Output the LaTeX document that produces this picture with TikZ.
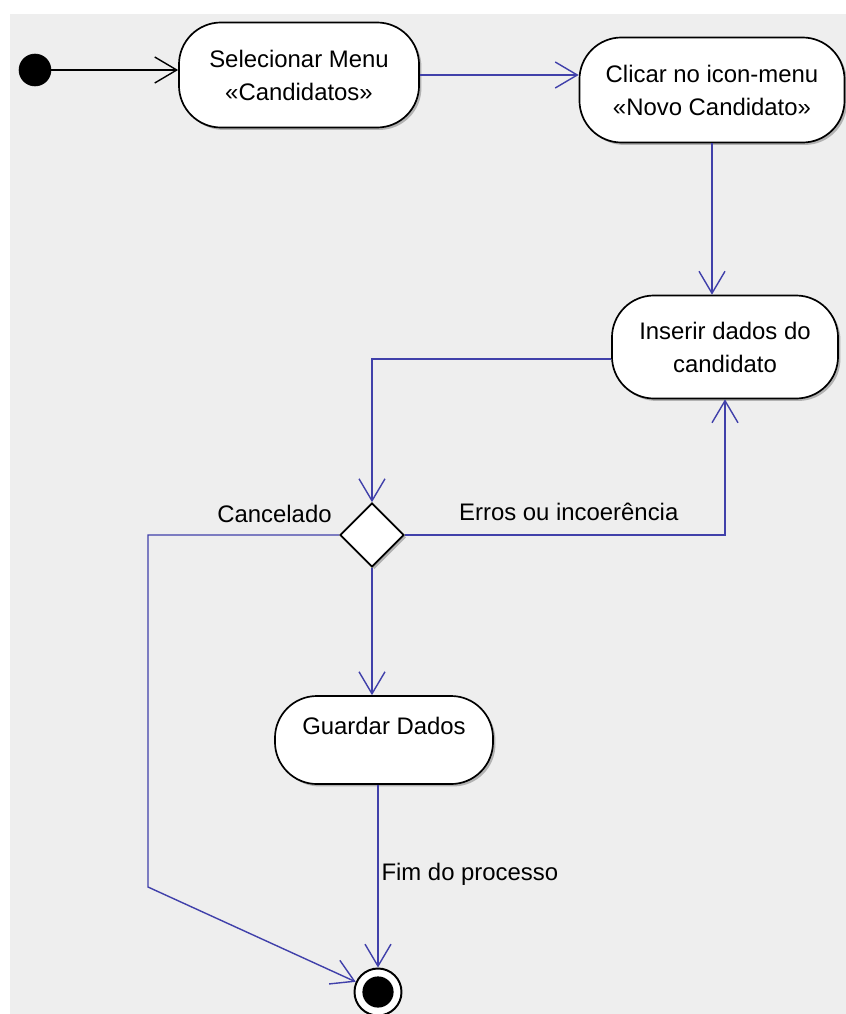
\documentclass[tikz,border=0pt]{standalone}
\usepackage{fontspec}
\setmainfont{Liberation Sans}
\usetikzlibrary{arrows.meta, shapes.geometric, shadows}

\definecolor{bggray}{RGB}{238,238,238}
\definecolor{flowblue}{RGB}{64,64,170}

\begin{document}
\begin{tikzpicture}[
	x=0.025cm, y=-0.025cm,
	activity/.style={rectangle, rounded corners=1.05cm, draw, line width=1.2pt, fill=white, align=center,
		font=\fontsize{17}{23.5}\selectfont,
		drop shadow={shadow xshift=0.06cm, shadow yshift=-0.06cm, opacity=0.25, fill=black}},
	decision/.style={diamond, draw, line width=1.2pt, fill=white, minimum width=1.6cm, minimum height=1.6cm, inner sep=0pt,
		drop shadow={shadow xshift=0.06cm, shadow yshift=-0.06cm, opacity=0.25, fill=black}},
	initnode/.style={circle, draw, fill=black, minimum size=0.8cm, inner sep=0pt},
	finalnode/.style={circle, draw, line width=1.4pt, fill=white, minimum size=1.175cm, inner sep=0pt,
		path picture={\fill[black] (path picture bounding box.center) circle (0.39cm);}},
	guard/.style={inner sep=2pt, font=\fontsize{17}{20}\selectfont},
	flow/.style={draw=flowblue, line width=1pt, -{Straight Barb[length=0.55cm, width=0.65cm]}}
	]
	
	% Background
	\fill[bggray] (10,14) rectangle (846,1014);
	\useasboundingbox (0,0) rectangle (846,1014);
	
	% Nodes
	\node[initnode] (start) at (35,70) {};
	\node[activity, minimum width=6cm, minimum height=2.625cm] (menu) at (299,75) {Selecionar Menu\\«Candidatos»};
	\node[activity, minimum width=6.625cm, minimum height=2.625cm] (novo) at (712,90) {Clicar no icon-menu\\«Novo Candidato»};
	\node[activity, minimum width=5.65cm, minimum height=2.575cm] (inserir) at (725,347) {Inserir dados do\\candidato};
	\node[decision] (check) at (372,535) {};
	\node[activity, minimum width=5.45cm, minimum height=2.2cm, text depth=19.5pt] (guardar) at (384,740) {Guardar Dados};
	\node[finalnode] (stop) at (378,992) {};
	\coordinate (corner) at (148,887);
	
	% Connections
	\draw[flow, draw=black] (start) -- (start -| menu.west);
	\draw[flow] (menu.east) -- (menu.east -| novo.west);
	\draw[flow] (novo.south) -- (novo.south |- inserir.north);
	\draw[flow] ([yshift=-0.3cm]inserir.west) -| (check.north);
	\draw[flow] (check.east) -| node[guard, pos=0.256, above=0.28cm] {Erros ou incoerência} (inserir.south);
	\draw[flow] (check.west) -| node[guard, pos=0, anchor=south east, xshift=-0.1cm, yshift=0.21cm] {Cancelado} (corner) -- (stop);
	\draw[flow] (check.south) -- (check.south |- guardar.north);
	\draw[flow] (guardar.south -| stop) -- node[guard, pos=0.49, right=0pt] {Fim do processo} (stop);
	
\end{tikzpicture}
\end{document}
